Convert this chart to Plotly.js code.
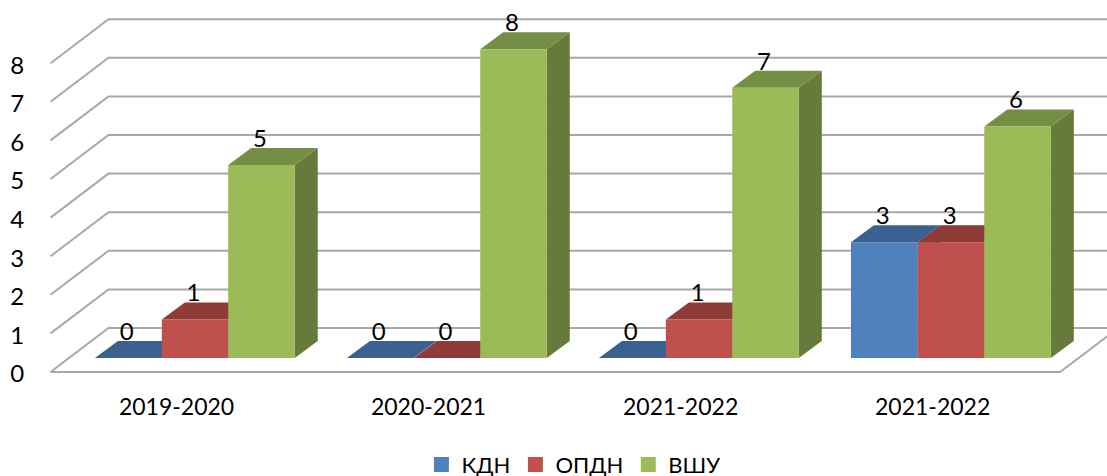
<!DOCTYPE html>
<html><head><meta charset="utf-8">
<script src="https://cdn.plot.ly/plotly-3.0.1.min.js"></script>
<style>html,body{margin:0;padding:0;background:#fff}#c{width:1107px;height:476px}</style>
</head><body><div id="c"></div>
<script>
const categories = ['2019-2020','2020-2021','2021-2022','2021-2022 '];
const seriesNames = ['КДН','ОПДН','ВШУ'];
const kdn  = [0,0,0,3];
const opdn = [1,0,1,3];
const vshu = [5,8,7,6];
const yTicks = [0,1,2,3,4,5,6,7,8];

const values = [kdn,opdn,vshu];
const frontColors = ['#4f81bd','#c0504d','#9bbb59'];
const topColors   = ['#3b6191','#8f3b38','#748e44'];
const sideColors  = ['#34567f','#7f3431','#667a3b'];
const barOffset = [-0.192,0.0735,0.337], barW = 0.264;
const barBase = 0.363, barDX = 0.0913, barDY = 0.44;
const wallDX = 0.23, wallDY = 1.14;
const xLeft = 0.5, xRight = 4.506, xFar = 5;
const pos = categories.map((_,i)=>i+1);

const gx=[], gy=[];
yTicks.forEach(v=>{ gx.push(xLeft,xLeft+wallDX,xFar,null); gy.push(v,v+wallDY,v+wallDY,null); });
gx.push(xLeft,xRight,xRight+wallDX); gy.push(0,0,wallDY);
const traces = [{x:gx,y:gy,mode:'lines',line:{color:'#a8a8a8',width:2},showlegend:false,hoverinfo:'skip'}];

values.forEach((vals,s)=>{
  const fx=[],fy=[],tx=[],ty=[],sx=[],sy=[];
  vals.forEach((v,i)=>{
    const l=pos[i]+barOffset[s]-barW/2, r=l+barW, b=barBase, t=barBase+v;
    fx.push(l,r,r,l,l,null); fy.push(b,b,t,t,b,null);
    tx.push(l,r,r+barDX,l+barDX,l,null); ty.push(t,t,t+barDY,t+barDY,t,null);
    sx.push(r,r+barDX,r+barDX,r,r,null); sy.push(b,b+barDY,t+barDY,t,b,null);
  });
  [[sx,sy,sideColors[s]],[tx,ty,topColors[s]],[fx,fy,frontColors[s]]].forEach(f=>{
    traces.push({x:f[0],y:f[1],mode:'lines',fill:'toself',fillcolor:f[2],line:{width:0,color:f[2]},showlegend:false,hoverinfo:'skip'});
  });
});

const lx=[],ly=[],lt=[];
values.forEach((vals,s)=>vals.forEach((v,i)=>{ lx.push(pos[i]+barOffset[s]-0.006); ly.push(v+barBase+0.62); lt.push(String(v)); }));
traces.push({x:lx,y:ly,text:lt,mode:'text',textposition:'middle center',textfont:{family:'Lato',size:24,color:'#000'},showlegend:false,hoverinfo:'skip',cliponaxis:false});

seriesNames.forEach((n,s)=>traces.push({x:[null],y:[null],name:n,mode:'markers',marker:{symbol:'square',size:15,color:frontColors[s]}}));

Plotly.newPlot('c',traces,{
  width:1107,height:476,
  margin:{l:46,r:0,t:0,b:100,pad:0},
  paper_bgcolor:'#fff',plot_bgcolor:'#fff',
  font:{family:'Lato',size:23,color:'#000'},
  xaxis:{range:[0.482,4.692],tickmode:'array',tickvals:pos,ticktext:categories.map(c=>c.trim()),showgrid:false,zeroline:false,showline:false,ticks:'outside',ticklen:10,tickcolor:'rgba(0,0,0,0)',tickangle:0,fixedrange:true},
  yaxis:{range:[-0.1036,9.637],tickmode:'array',tickvals:yTicks,showgrid:false,zeroline:false,showline:false,ticks:'outside',ticklen:16,tickcolor:'rgba(0,0,0,0)',ticklabelshift:2,tickfont:{family:'Lato',size:24,color:'#000'},fixedrange:true},
  legend:{orientation:'h',x:0.518,xanchor:'center',xref:'container',y:0.024,yref:'container',yanchor:'middle',font:{family:'Lato',size:22,color:'#000'},bgcolor:'rgba(0,0,0,0)'},
  showlegend:true
},{displayModeBar:false,staticPlot:true});
</script></body></html>
